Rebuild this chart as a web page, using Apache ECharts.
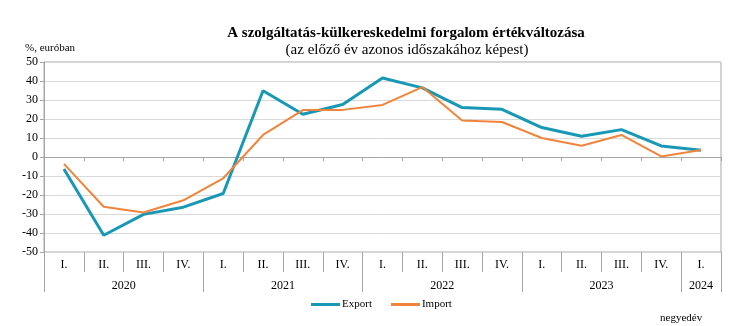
<!DOCTYPE html>
<html>
<head>
<meta charset="utf-8">
<script src="https://cdn.jsdelivr.net/npm/echarts@6/dist/echarts.min.js"></script>
<style>
  html, body { margin: 0; padding: 0; background: #fff; }
  #chart { width: 730px; height: 326px; }
</style>
</head>
<body>
<div id="chart"></div>
<script>
// Quarterly change of services trade, year-on-year, in euro terms
const quarters = ['I.', 'II.', 'III.', 'IV.', 'I.', 'II.', 'III.', 'IV.', 'I.', 'II.', 'III.', 'IV.', 'I.', 'II.', 'III.', 'IV.', 'I.'];
const years = ['2020', '2021', '2022', '2023', '2024'];
const quartersPerYear = [4, 4, 4, 4, 1];
const exportValues = [-6.3, -41.2, -30.2, -26.4, -19.2, 34.9, 22.5, 27.6, 41.6, 36.4, 26.0, 25.1, 15.5, 10.9, 14.4, 5.8, 3.5];
const importValues = [-3.6, -26.2, -29.2, -22.8, -11.2, 11.6, 24.7, 24.8, 27.4, 36.8, 19.2, 18.4, 10.0, 5.9, 11.6, 0.3, 3.7];
const yTicks = { min: -50, max: 50, step: 10 };

// Year row: half-quarter slots, so each year label sits at the middle of its span
const halfSlots = [];
const yearAt = {};
const yearBoundary = new Set([0]);
let pos = 0;
years.forEach((y, i) => {
  yearAt[pos + quartersPerYear[i]] = y;
  pos += quartersPerYear[i] * 2;
  yearBoundary.add(pos);
});
for (let i = 0; i <= pos; i++) halfSlots.push(yearAt[i] || '');

const serif = '"Liberation Serif", "Times New Roman", serif';
const axisGray = '#a6a6a6';
const gridGray = '#d9d9d9';

const chart = echarts.init(document.getElementById('chart'), null, { renderer: 'canvas' });
chart.setOption({
  animation: false,
  textStyle: { fontFamily: serif },
  title: [{
    text: 'A szolgáltatás-külkereskedelmi forgalom értékváltozása',
    left: 401, top: 21, textAlign: 'center',
    textStyle: { fontFamily: serif, fontWeight: 'bold', fontSize: 15, color: '#000' }
  }, {
    text: '(az előző év azonos időszakához képest)',
    left: 402, top: 38, textAlign: 'center',
    textStyle: { fontFamily: serif, fontWeight: 'normal', fontSize: 15, color: '#000' }
  }, {
    text: '%, euróban',
    left: 20, top: 38,
    textStyle: { fontFamily: serif, fontWeight: 'normal', fontSize: 11, color: '#000' }
  }, {
    text: 'negyedév',
    left: 655, top: 308,
    textStyle: { fontFamily: serif, fontWeight: 'normal', fontSize: 11, color: '#000' }
  }],
  legend: {
    left: 306, top: 294,
    itemWidth: 29, itemHeight: 3, itemGap: 19,
    icon: 'rect',
    textStyle: { fontFamily: serif, fontSize: 11, color: '#000', padding: [0, 0, 0, -3] },
    data: ['Export', 'Import']
  },
  grid: {
    left: 44, right: 9, top: 62, bottom: 74,
    show: true, borderColor: axisGray, borderWidth: 1
  },
  yAxis: {
    type: 'value', min: yTicks.min, max: yTicks.max, interval: yTicks.step,
    axisLine: { show: true, lineStyle: { color: axisGray } },
    axisTick: { show: true, length: 4, lineStyle: { color: axisGray } },
    axisLabel: { color: '#000', fontSize: 12, fontFamily: serif, margin: 6 },
    splitLine: { lineStyle: { color: gridGray } }
  },
  xAxis: [{
    // axis crossing at zero: line and tick marks only
    type: 'category', data: quarters, boundaryGap: true,
    axisLine: { onZero: true, lineStyle: { color: axisGray } },
    axisTick: { show: true, length: 4, lineStyle: { color: axisGray } },
    axisLabel: { show: false },
    splitLine: { show: false }
  }, {
    // quarter row under the plot
    type: 'category', data: quarters, boundaryGap: true, position: 'bottom',
    axisLine: { show: false, onZero: false },
    axisTick: { show: true, length: 20, lineStyle: { color: axisGray } },
    axisLabel: { color: '#000', fontSize: 12, fontFamily: serif, margin: 7, interval: 0 },
    splitLine: { show: false }
  }, {
    // year row under the quarters
    type: 'category', data: halfSlots, boundaryGap: false, position: 'bottom',
    axisLine: { show: false, onZero: false },
    axisTick: {
      show: true, length: 40, lineStyle: { color: axisGray },
      interval: (i) => yearBoundary.has(i)
    },
    axisLabel: {
      color: '#000', fontSize: 12, fontFamily: serif, margin: 28,
      interval: (i, v) => v !== ''
    },
    splitLine: { show: false }
  }],
  series: [{
    name: 'Export', type: 'line', xAxisIndex: 0,
    data: exportValues, symbol: 'none',
    lineStyle: { color: '#1898b4', width: 3 },
    itemStyle: { color: '#1898b4' }, z: 2
  }, {
    name: 'Import', type: 'line', xAxisIndex: 0,
    data: importValues, symbol: 'none',
    lineStyle: { color: '#f0843c', width: 2 },
    itemStyle: { color: '#f0843c' }, z: 3
  }]
});
</script>
</body>
</html>
